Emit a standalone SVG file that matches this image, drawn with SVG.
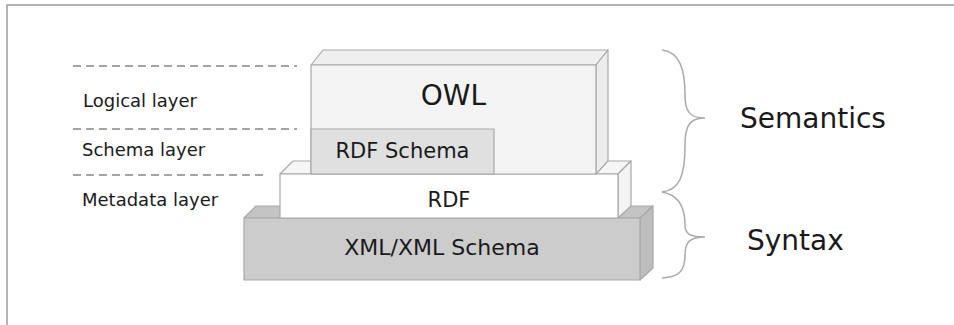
<svg xmlns="http://www.w3.org/2000/svg" width="954" height="325" viewBox="0 0 954 325">
<style>
text{font-family:"DejaVu Sans",Verdana,sans-serif;fill:#1a1a1a}
.edge{stroke:#a8a8a8;stroke-width:1.2;stroke-linejoin:round}
.dash{stroke:#888;stroke-width:1.6;stroke-dasharray:8,5;fill:none}
.brace{stroke:#aaa;stroke-width:1.5;fill:none}
.lbl{font-size:18px}
.big{font-size:28px}
</style>
<rect width="954" height="325" fill="#fff"/>
<path d="M7,325 V5 H954" fill="none" stroke="#9a9a9a" stroke-width="1.5"/>
<g id="connectors">
<line class="dash" x1="73" y1="66" x2="297" y2="66"/>
<line class="dash" x1="73" y1="129" x2="297" y2="129"/>
<line class="dash" x1="73" y1="175" x2="265" y2="175"/>
<path class="brace" d="M662,50 C680,52 685,70 685,95 C685,112 690,118 705,118 C690,118 685,125 685,145 C685,175 680,190 662,192"/>
<path class="brace" d="M662,192 C680,195 685,210 685,225 C685,234 690,237 705,237 C690,237 685,242 685,255 C685,270 680,277 662,278"/>
</g>
<g id="xml">
<polygon class="edge" points="244,218 256,206 653,206 640,218" fill="#c4c4c4"/>
<polygon class="edge" points="640,218 653,206 653,268 640,280" fill="#bdbdbd"/>
<rect class="edge" x="244" y="218" width="396" height="62" fill="#cccccc"/>
<text x="442" y="255" font-size="22" text-anchor="middle">XML/XML Schema</text>
</g>
<g id="rdf">
<polygon class="edge" points="280,174 293,161 631,161 618,174" fill="#f6f6f6"/>
<polygon class="edge" points="618,174 631,161 631,206 618,218" fill="#f4f4f4"/>
<rect class="edge" x="280" y="174" width="338" height="44" fill="#ffffff"/>
<text x="449" y="207" font-size="21" text-anchor="middle">RDF</text>
</g>
<g id="owl">
<polygon class="edge" points="311,65 323,50 608,50 596,65" fill="#efefef"/>
<polygon class="edge" points="596,65 608,50 608,161 596,174" fill="#ececec"/>
<rect class="edge" x="311" y="65" width="285" height="109" fill="#f4f4f4"/>
<text x="453.5" y="105" font-size="28" text-anchor="middle">OWL</text>
</g>
<g id="rdfschema">
<rect class="edge" x="311" y="129" width="183" height="45" fill="#e0e0e0"/>
<text x="402.5" y="158" font-size="21" text-anchor="middle">RDF Schema</text>
</g>
<g id="labels">
<text class="lbl" x="83" y="107">Logical layer</text>
<text class="lbl" x="82" y="156">Schema layer</text>
<text class="lbl" x="82" y="206">Metadata layer</text>
<text class="big" x="740" y="128">Semantics</text>
<text class="big" x="747" y="250">Syntax</text>
</g>
</svg>
